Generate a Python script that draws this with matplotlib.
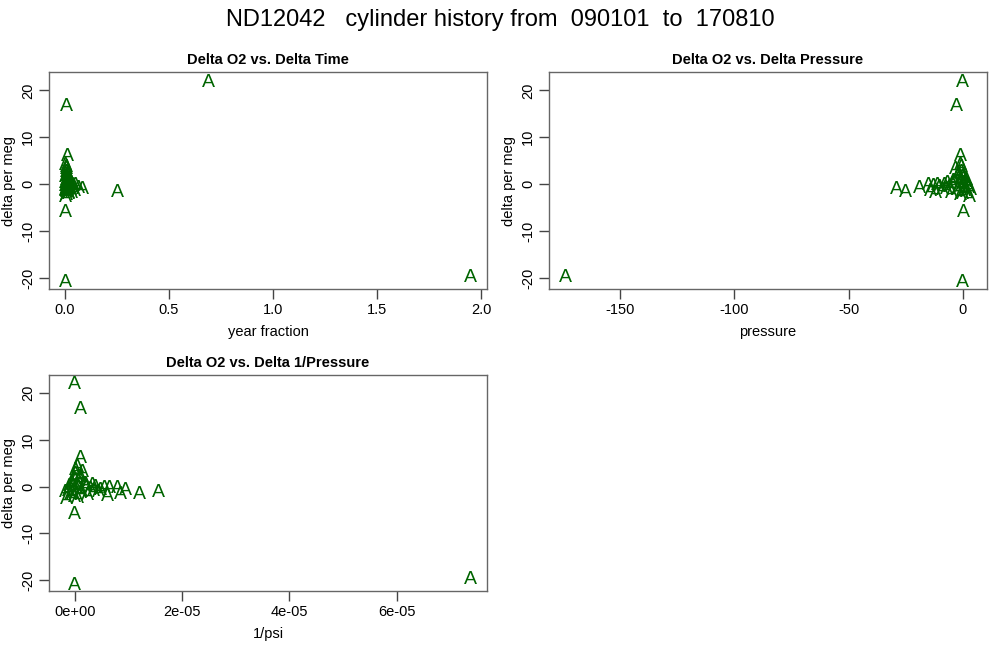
import matplotlib
matplotlib.use("Agg")
import matplotlib.pyplot as plt
from matplotlib.ticker import FixedLocator, FixedFormatter

plt.rcParams["font.family"] = ["Liberation Sans", "DejaVu Sans"]

# delta values per cylinder comparison
d_time = [0.69, 0.005, 1.95, 0.002, 0.003, 0.012, 0.25, 0.085,
          0.003, 0.006, 0.010, 0.004, 0.008, 0.012, 0.002, 0.015, 0.005, 0.020,
          0.007, 0.011, 0.003, 0.018, 0.009, 0.001, 0.025, 0.014, 0.006, 0.030,
          0.004, 0.013, 0.022, 0.008, 0.016, 0.035, 0.010, 0.002, 0.019, 0.027,
          0.005, 0.040, 0.012, 0.017, 0.050, 0.065, 0.045, 0.030, 0.006, 0.009]
d_press = [-0.3, -2.6, -174.0, -0.2, 0.1, -1.2, -25.0, -29.0,
           -1.0, -0.5, -2.0, -0.3, 1.5, -3.5, 0.5, -4.5, -1.5, -6.0,
           2.5, -2.5, 0.8, -5.0, -0.8, 3.0, -8.0, -1.2, 0.2, -10.0,
           -2.2, 1.0, -7.0, -3.0, 0.0, -11.0, 2.0, -0.6, -4.0, -9.0,
           1.8, -13.0, -1.8, -6.5, -15.0, -19.0, -14.0, -12.0, -0.4, 3.5]
d_invp = [0.0, 0.1, 7.38, 0.0, 0.0, 0.1, 1.20, 1.55,
          0.05, 0.02, 0.10, 0.01, -0.07, 0.17, -0.02, 0.21, 0.07, 0.29,
          -0.12, 0.12, -0.04, 0.24, 0.04, -0.15, 0.38, 0.06, -0.01, 0.48,
          0.11, -0.05, 0.34, 0.14, 0.0, 0.55, -0.10, 0.03, 0.20, 0.44,
          -0.09, 0.65, 0.09, 0.32, 0.80, 0.95, 0.85, 0.60, 0.02, -0.18]
d_invp = [v * 1e-5 for v in d_invp]
d_o2 = [22.2, 17.0, -19.4, -20.6, -5.5, 6.4, -1.3, -0.7,
        4.5, 3.0, 2.5, 1.8, 1.2, 0.9, 0.5, 0.3, 0.0, -0.2,
        -0.5, -0.8, -1.2, -1.5, -2.0, -2.3, 0.2, 1.5, 2.0, -0.3,
        -1.0, 0.7, -0.6, 3.5, -1.8, 0.1, 0.4, -0.1, 1.0, -0.9,
        -1.4, 0.0, 2.2, 0.6, 0.1, -0.4, -1.2, -1.6, 4.0, -0.9]

y_ticks = [-20, -10, 0, 10, 20]
panels = [
    (d_time, "Delta O2 vs. Delta Time", "year fraction",
     [0.0, 0.5, 1.0, 1.5, 2.0], ["0.0", "0.5", "1.0", "1.5", "2.0"]),
    (d_press, "Delta O2 vs. Delta Pressure", "pressure",
     [-150, -100, -50, 0], ["-150", "-100", "-50", "0"]),
    (d_invp, "Delta O2 vs. Delta 1/Pressure", "1/psi",
     [0, 2e-5, 4e-5, 6e-5], ["0e+00", "2e-05", "4e-05", "6e-05"]),
]
positions = [
    [0.049, 1 - 289 / 670, 0.438, 217 / 670],
    [0.549, 1 - 289 / 670, 0.438, 217 / 670],
    [0.049, 1 - 591 / 670, 0.438, 216 / 670],
]

fig = plt.figure(figsize=(10, 6.7), dpi=100)
fig.text(0.5, 1 - 20 / 670, "ND12042   cylinder history from  090101  to  170810",
         ha="center", va="center", fontsize=17)


def rlim(vals):
    lo, hi = min(vals), max(vals)
    pad = (hi - lo) * 0.04
    return lo - pad, hi + pad


for (xs, title, xlabel, xt, xtl), pos in zip(panels, positions):
    ax = fig.add_axes(pos)
    for x, y in zip(xs, d_o2):
        ax.text(x, y, "A", color="#006400", fontsize=14,
                ha="center", va="center_baseline")
    ax.set_xlim(rlim(xs))
    ax.set_ylim(rlim(d_o2))
    ax.xaxis.set_major_locator(FixedLocator(xt))
    ax.xaxis.set_major_formatter(FixedFormatter(xtl))
    ax.set_yticks(y_ticks)
    ax.set_yticklabels([str(t) for t in y_ticks], rotation=90, va="center")
    ax.tick_params(direction="out", length=7, width=1, colors="#444444",
                   labelcolor="black", labelsize=10.5, pad=3)
    for s in ax.spines.values():
        s.set_color("#666666")
        s.set_linewidth(1)
    ax.set_title(title, fontsize=10.5, fontweight="bold", pad=6)
    ax.set_xlabel(xlabel, fontsize=10.5, labelpad=6)
    ax.set_ylabel("delta per meg", fontsize=10.5, labelpad=4)

fig.savefig("out.png", dpi=100)
